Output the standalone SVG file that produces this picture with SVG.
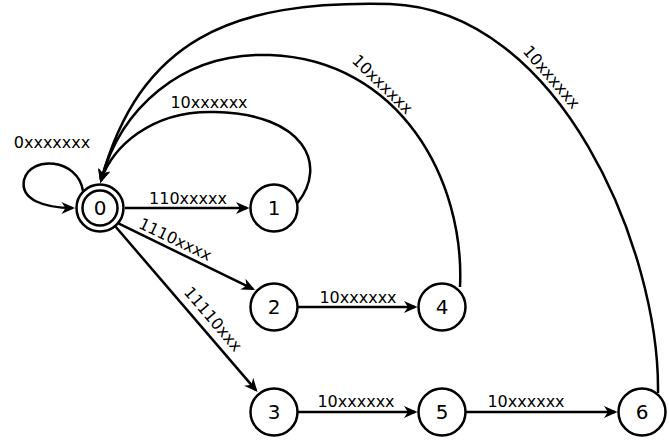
<svg xmlns="http://www.w3.org/2000/svg" width="669" height="442" viewBox="0 0 669 442">
<style>
.node circle{fill:#fff;stroke:#000;stroke-width:2.5}
.node text{font-family:"DejaVu Sans",sans-serif;font-size:20px;text-anchor:middle;fill:#000}
.edge{fill:none;stroke:#000;stroke-width:2.5;marker-end:url(#arr)}
.lbl{font-family:"DejaVu Sans",sans-serif;font-size:16px;text-anchor:middle;fill:#000}
</style>
<defs>
<marker id="arr" viewBox="-12 -7 15 14" refX="0" refY="0" markerWidth="15" markerHeight="14" markerUnits="userSpaceOnUse" orient="auto">
<path d="M2.5,0 L-11,-6 L-7,0 L-11,6 Z" fill="#000"/>
</marker>
</defs>
<rect width="669" height="442" fill="#fff"/>
<g id="connectors">
<path class="edge" d="M83,191 C78,158 30,155 24,180 C20,200 45,208 72.5,208"/>
<path class="edge" d="M125,208 L247,208"/>
<path class="edge" d="M118.4,223.4 L252.8,288.9"/>
<path class="edge" d="M115,226 L255.9,390.1"/>
<path class="edge" d="M298,307 L415,307"/>
<path class="edge" d="M298,412 L415,412"/>
<path class="edge" d="M466,412 L615,412"/>
<path class="edge" d="M297.5,203 C328,165 305,114 215,112 C150,110 112,148 101,180.5"/>
<path class="edge" d="M460,287 C465,180 400,60 270,55 C180,52 120,110 101,180.5"/>
<path class="edge" d="M658,393 C660,250 560,10 390,4 C230,0 140,40 101,180.5"/>
<text class="lbl" x="52" y="148">0xxxxxxx</text>
<text class="lbl" x="188" y="204">110xxxxx</text>
<text class="lbl" x="209" y="108">10xxxxxx</text>
<text class="lbl" transform="translate(173.5,243) rotate(25.5)" y="1.5">1110xxxx</text>
<text class="lbl" transform="translate(210,321.7) rotate(49.5)" y="1.5">11110xxx</text>
<text class="lbl" x="358" y="303">10xxxxxx</text>
<text class="lbl" x="356" y="407">10xxxxxx</text>
<text class="lbl" x="526" y="407">10xxxxxx</text>
<text class="lbl" transform="translate(379,88) rotate(44)" y="0.5">10xxxxxx</text>
<text class="lbl" transform="translate(548,80) rotate(49)" y="1">10xxxxxx</text>
</g>
<g id="node0" class="node"><circle cx="100" cy="208" r="23.5"/><circle cx="100" cy="208" r="17.5"/><text x="100" y="215">0</text></g>
<g id="node1" class="node"><circle cx="274" cy="208" r="23.5"/><text x="274" y="215">1</text></g>
<g id="node2" class="node"><circle cx="274" cy="307" r="23.5"/><text x="274" y="314">2</text></g>
<g id="node3" class="node"><circle cx="274" cy="412" r="23.5"/><text x="274" y="419">3</text></g>
<g id="node4" class="node"><circle cx="442" cy="307" r="23.5"/><text x="442" y="314">4</text></g>
<g id="node5" class="node"><circle cx="442" cy="412" r="23.5"/><text x="442" y="419">5</text></g>
<g id="node6" class="node"><circle cx="642" cy="412" r="23.5"/><text x="642" y="419">6</text></g>
</svg>
